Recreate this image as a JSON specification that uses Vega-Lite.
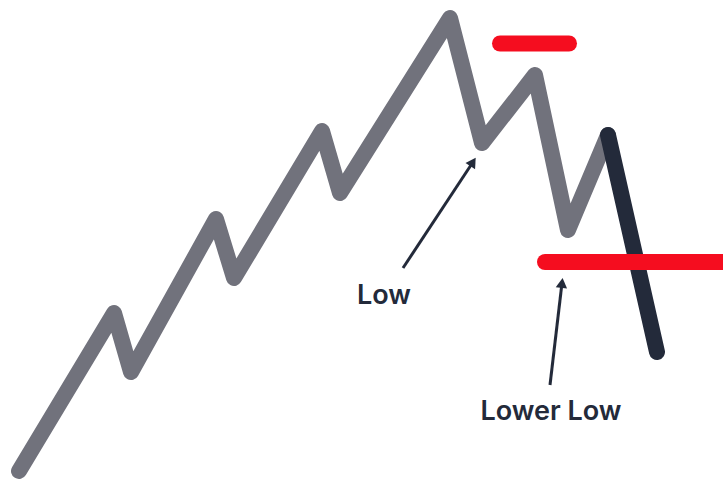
{
  "$schema": "https://vega.github.io/schema/vega-lite/v6.json",
  "width": 723,
  "height": 480,
  "autosize": {"type": "fit", "contains": "padding"},
  "padding": 0,
  "background": "white",
  "config": {"view": {"stroke": null}},
  "datasets": {
    "path": [
      {"t": 19, "p": 9, "o": 1, "s": "trend"},
      {"t": 114, "p": 167, "o": 2, "s": "trend"},
      {"t": 131, "p": 108, "o": 3, "s": "trend"},
      {"t": 216, "p": 261, "o": 4, "s": "trend"},
      {"t": 234, "p": 202, "o": 5, "s": "trend"},
      {"t": 322, "p": 349, "o": 6, "s": "trend"},
      {"t": 340, "p": 287, "o": 7, "s": "trend"},
      {"t": 450, "p": 462, "o": 8, "s": "trend"},
      {"t": 482, "p": 337, "o": 9, "s": "trend"},
      {"t": 535, "p": 405, "o": 10, "s": "trend"},
      {"t": 568, "p": 250, "o": 11, "s": "trend"},
      {"t": 608, "p": 345, "o": 12, "s": "trend"},
      {"t": 608, "p": 345, "o": 1, "s": "break"},
      {"t": 657, "p": 128, "o": 2, "s": "break"}
    ],
    "levels": [
      {"t": 500, "p": 436.5, "lvl": "high"},
      {"t": 569, "p": 436.5, "lvl": "high"},
      {"t": 545, "p": 218, "lvl": "low"},
      {"t": 740, "p": 218, "lvl": "low"}
    ],
    "arrowLow": [
      {"t": 403, "p": 212},
      {"t": 473, "p": 318}
    ],
    "arrowLowerLow": [
      {"t": 550, "p": 95},
      {"t": 562, "p": 197}
    ],
    "labels": [
      {"t": 384, "p": 184, "txt": "Low"},
      {"t": 551, "p": 68, "txt": "Lower Low"}
    ]
  },
  "layer": [
    {
      "data": {"name": "path"},
      "mark": {"type": "line", "strokeWidth": 16, "strokeCap": "round", "strokeJoin": "round", "clip": true},
      "encoding": {
        "x": {"field": "t", "type": "quantitative", "scale": {"domain": [0, 723], "nice": false, "zero": false}, "axis": null},
        "y": {"field": "p", "type": "quantitative", "scale": {"domain": [0, 480], "nice": false, "zero": false}, "axis": null},
        "order": {"field": "o"},
        "detail": {"field": "s"},
        "color": {"field": "s", "type": "nominal", "scale": {"domain": ["trend", "break"], "range": ["#71727c", "#232a3a"]}, "legend": null}
      }
    },
    {
      "data": {"name": "levels"},
      "mark": {"type": "line", "strokeWidth": 16, "strokeCap": "round", "color": "#f50d1f", "clip": true},
      "encoding": {
        "x": {"field": "t", "type": "quantitative", "scale": {"domain": [0, 723], "nice": false, "zero": false}, "axis": null},
        "y": {"field": "p", "type": "quantitative", "scale": {"domain": [0, 480], "nice": false, "zero": false}, "axis": null},
        "detail": {"field": "lvl"}
      }
    },
    {
      "data": {"name": "arrowLow"},
      "mark": {"type": "line", "strokeWidth": 3, "color": "#232a3a", "clip": true},
      "encoding": {
        "x": {"field": "t", "type": "quantitative", "axis": null},
        "y": {"field": "p", "type": "quantitative", "axis": null}
      }
    },
    {
      "data": {"name": "arrowLowerLow"},
      "mark": {"type": "line", "strokeWidth": 3, "color": "#232a3a", "clip": true},
      "encoding": {
        "x": {"field": "t", "type": "quantitative", "axis": null},
        "y": {"field": "p", "type": "quantitative", "axis": null}
      }
    },
    {
      "data": {"name": "arrowLow"},
      "transform": [{"filter": "datum.p > 300"}],
      "mark": {"type": "point", "shape": "triangle-up", "filled": true, "size": 130, "angle": 33, "color": "#232a3a", "opacity": 1},
      "encoding": {
        "x": {"field": "t", "type": "quantitative", "axis": null},
        "y": {"field": "p", "type": "quantitative", "axis": null}
      }
    },
    {
      "data": {"name": "arrowLowerLow"},
      "transform": [{"filter": "datum.p > 150"}],
      "mark": {"type": "point", "shape": "triangle-up", "filled": true, "size": 130, "angle": 7, "color": "#232a3a", "opacity": 1},
      "encoding": {
        "x": {"field": "t", "type": "quantitative", "axis": null},
        "y": {"field": "p", "type": "quantitative", "axis": null}
      }
    },
    {
      "data": {"name": "labels"},
      "mark": {"type": "text", "font": "Inter", "fontSize": 27, "fontWeight": 600, "color": "#232a3a", "align": "center", "baseline": "middle"},
      "encoding": {
        "x": {"field": "t", "type": "quantitative", "axis": null},
        "y": {"field": "p", "type": "quantitative", "axis": null},
        "text": {"field": "txt"}
      }
    }
  ]
}
